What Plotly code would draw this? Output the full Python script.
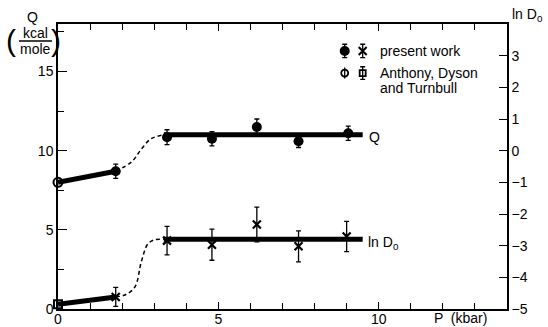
import plotly.graph_objects as go

# ---------------- data ----------------
# Q (kcal/mole) vs pressure, present work
P_Q = [1.8, 3.4, 4.8, 6.2, 7.5, 9.05]
Q_vals = [8.7, 10.85, 10.75, 11.5, 10.6, 11.1]
Q_err = [0.45, 0.47, 0.45, 0.5, 0.4, 0.45]
# ln D0 vs pressure, present work
P_D = [1.8, 3.4, 4.8, 6.2, 7.5, 9.0]
lnD_vals = [-4.62, -2.84, -2.97, -2.33, -3.02, -2.71]
lnD_err = [0.3, 0.45, 0.49, 0.55, 0.49, 0.48]
# Anthony, Dyson and Turnbull (P = 0)
P_ADT = [0.0]
Q_ADT = [8.0]
lnD_ADT = [-4.85]
# guide lines
Q_low_P = [0.0, 1.8]
Q_low = [8.0, 8.7]
Q_high_P = [3.3, 9.5]
Q_high = [11.0, 11.0]
Q_dash_P = [1.8, 2.3, 2.6, 2.9, 3.3]
Q_dash = [8.7, 9.3, 10.1, 10.75, 11.0]
D_low_P = [0.0, 1.8]
D_low = [-4.85, -4.62]
D_high_P = [3.3, 9.5]
D_high = [-2.8, -2.8]
D_dash_P = [1.8, 2.1, 2.4, 2.6, 2.8, 3.0, 3.3]
D_dash = [-4.62, -4.55, -4.3, -3.5, -2.95, -2.82, -2.8]
# tick labels
x_ticks = [0, 5, 10]
yQ_ticks = [0, 5, 10, 15]
yD_ticks = [-5, -4, -3, -2, -1, 0, 1, 2, 3]

FONT = "Liberation Sans"
K = "black"

fig = go.Figure()

def line(x, y, axis, width=5, dash=None):
    fig.add_trace(go.Scatter(x=x, y=y, yaxis=axis, mode="lines",
                             line=dict(color=K, width=width, dash=dash, shape="spline"),
                             showlegend=False, hoverinfo="skip"))

line(Q_low_P, Q_low, "y")
line(Q_high_P, Q_high, "y")
line(Q_dash_P, Q_dash, "y", width=1.5, dash="4px,3px")
line(D_low_P, D_low, "y2")
line(D_high_P, D_high, "y2")
line(D_dash_P, D_dash, "y2", width=1.5, dash="4px,3px")

fig.add_trace(go.Scatter(x=P_Q, y=Q_vals, yaxis="y", mode="markers",
                         marker=dict(symbol="circle", size=10, color=K),
                         error_y=dict(type="data", array=Q_err, color=K, thickness=1.3, width=2.5),
                         showlegend=False))
fig.add_trace(go.Scatter(x=P_D, y=lnD_vals, yaxis="y2", mode="markers",
                         marker=dict(symbol="x-thin", size=8, color=K, line=dict(color=K, width=2.2)),
                         error_y=dict(type="data", array=lnD_err, color=K, thickness=1.3, width=2.5),
                         showlegend=False))
fig.add_trace(go.Scatter(x=P_ADT, y=Q_ADT, yaxis="y", mode="markers",
                         marker=dict(symbol="circle-open", size=9, color=K, line=dict(color=K, width=2)),
                         showlegend=False, cliponaxis=False))
fig.add_trace(go.Scatter(x=P_ADT, y=lnD_ADT, yaxis="y2", mode="markers",
                         marker=dict(symbol="square-open", size=8, color=K, line=dict(color=K, width=2)),
                         showlegend=False, cliponaxis=False))

# legend keys (layout positions)
LX1, LX2 = 8.94, 9.5
LY1, LY2 = 16.3, 14.9
fig.add_trace(go.Scatter(x=[LX1], y=[LY1], mode="markers",
                         marker=dict(symbol="circle", size=10, color=K),
                         error_y=dict(type="constant", value=0.42, color=K, thickness=1.3, width=2.5),
                         showlegend=False, hoverinfo="skip"))
fig.add_trace(go.Scatter(x=[LX2], y=[LY1], mode="markers",
                         marker=dict(symbol="x-thin", size=8, color=K, line=dict(color=K, width=2)),
                         error_y=dict(type="constant", value=0.42, color=K, thickness=1.3, width=2.5),
                         showlegend=False, hoverinfo="skip"))
fig.add_trace(go.Scatter(x=[LX1], y=[LY2], mode="markers",
                         marker=dict(symbol="circle-open", size=7, color=K, line=dict(color=K, width=1.8)),
                         error_y=dict(type="constant", value=0.35, color=K, thickness=1.3, width=0),
                         showlegend=False, hoverinfo="skip"))
fig.add_trace(go.Scatter(x=[LX2], y=[LY2], mode="markers",
                         marker=dict(symbol="square-open", size=6, color=K, line=dict(color=K, width=1.8)),
                         error_y=dict(type="constant", value=0.4, color=K, thickness=1.3, width=2.5),
                         showlegend=False, hoverinfo="skip"))

ann = [
    dict(x=378, y=51, text="present work"),
    dict(x=378, y=73, text="Anthony, Dyson"),
    dict(x=378, y=88, text="and Turnbull"),
    dict(x=367, y=137, text="Q"),
    dict(x=366, y=243, text="ln D<sub>0</sub>"),
    dict(x=432, y=318, text="P  (kbar)"),
    dict(x=510, y=15, text="ln D<sub>0</sub>"),
]
annotations = []
W0, W1, H0, H1 = 58, 507, 24, 309
def px(x):
    return (x - W0) / (W1 - W0)
def py(y):
    return (H1 - y) / (H1 - H0)
for a in ann:
    annotations.append(dict(x=px(a["x"]), y=py(a["y"]), xref="paper", yref="paper",
                            text=a["text"], showarrow=False, xanchor="left", yanchor="middle",
                            font=dict(family=FONT, size=14, color=K)))
# Q (kcal/mole) title
for (x, y, t, s) in [(32, 17, "Q", 14), (35, 33, "kcal", 14), (35, 49, "mole", 14),
                     (11, 41, "(", 30), (56, 41, ")", 30)]:
    annotations.append(dict(x=px(x), y=py(y), xref="paper", yref="paper", text=t,
                            showarrow=False, xanchor="center", yanchor="middle",
                            font=dict(family=FONT, size=s, color=K)))

shapes = [dict(type="line", xref="paper", yref="paper", x0=px(19), x1=px(52),
               y0=py(41), y1=py(41), line=dict(color=K, width=1.5))]

fig.update_layout(
    width=548, height=327,
    margin=dict(l=W0, r=548 - W1, t=H0, b=327 - H1),
    paper_bgcolor="white", plot_bgcolor="white",
    font=dict(family=FONT, size=14, color=K),
    showlegend=False,
    annotations=annotations, shapes=shapes,
    xaxis=dict(range=[0, 14], tickvals=x_ticks, ticks="inside", ticklen=7, tickwidth=1.2,
               tickcolor=K, showline=True, linecolor=K, linewidth=1.5, mirror="ticks",
               showgrid=False, zeroline=False, automargin=False, ticklabelstandoff=-4,
               minor=dict(dtick=1, ticks="inside", ticklen=6, tickcolor=K, showgrid=False),
               tickfont=dict(size=14, family=FONT, color=K)),
    yaxis=dict(range=[0, 18], tickvals=yQ_ticks, ticks="inside", ticklen=9, tickwidth=1.2,
               tickcolor=K, showline=True, linecolor=K, linewidth=1.5, mirror=False,
               showgrid=False, zeroline=False, automargin=False,
               minor=dict(dtick=2.5, ticks="inside", ticklen=6, tickcolor=K, showgrid=False),
               tickfont=dict(size=14, family=FONT, color=K)),
    yaxis2=dict(range=[-5, 4], overlaying="y", side="right", tickvals=yD_ticks,
                ticks="inside", ticklen=8, tickwidth=1.2, tickcolor=K,
                showline=True, linecolor=K, linewidth=1.5, showgrid=False, zeroline=False,
                automargin=False, tickfont=dict(size=14, family=FONT, color=K)),
)

fig.write_html("out.html", config={"displayModeBar": False},
               post_script="document.body.style.margin='0';")
